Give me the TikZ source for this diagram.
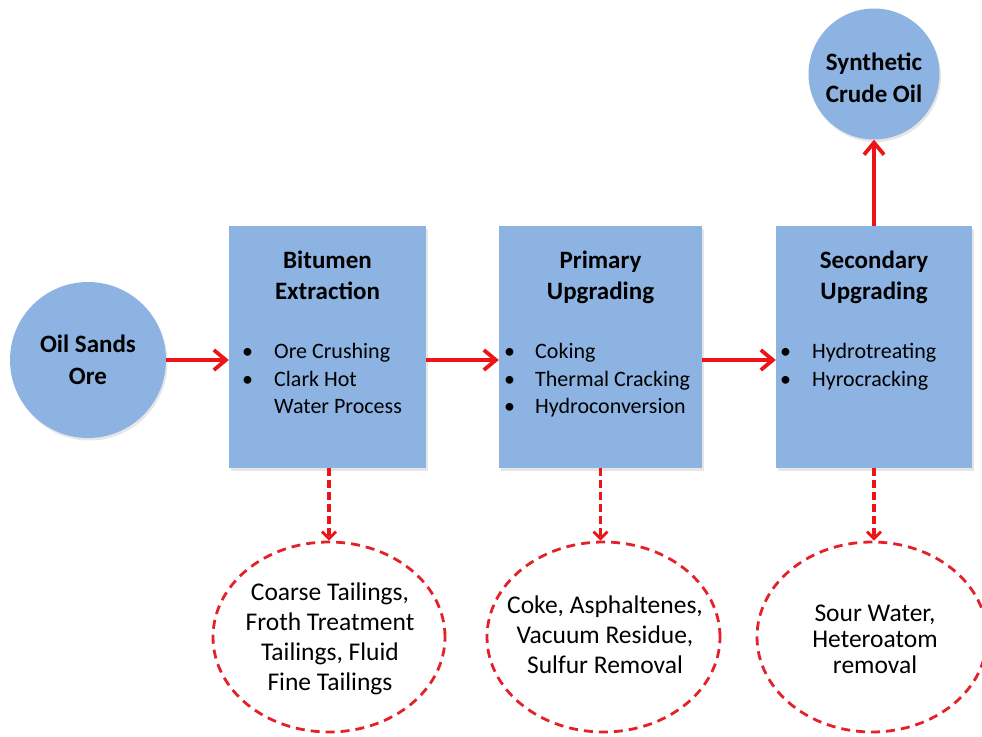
\documentclass[tikz,border=0pt]{standalone}
\usepackage{fontspec}
\setmainfont{Carlito}
\usetikzlibrary{arrows.meta,shapes.geometric,shadows}
\definecolor{boxblue}{RGB}{141,179,226}
\definecolor{arrred}{RGB}{236,20,22}
\definecolor{dashred}{RGB}{226,34,40}
\begin{document}
\begin{tikzpicture}[x=1pt,y=-1pt,
  softshadow/.style={drop shadow={opacity=0.2,shadow xshift=1.5pt,shadow yshift=-2.5pt}},
  procbox/.style={rectangle,fill=boxblue,draw=none,minimum height=242pt,inner sep=0pt,softshadow},
  endcircle/.style={circle,fill=boxblue,draw=none,inner sep=0pt,softshadow},
  wasteell/.style={ellipse,draw=dashred,line width=2.8pt,dash pattern=on 9pt off 6pt,minimum width=232pt,minimum height=190pt,inner sep=0pt},
  flow/.style={draw=arrred,line width=4pt,-{Straight Barb[length=12pt,width=20pt,line width=3.8pt]}},
  wasteflow/.style={draw=arrred,line width=3.2pt,dash pattern=on 8pt off 4pt,-{Straight Barb[length=7pt,width=14pt,line width=2.8pt]}},
  ttl/.style={font=\fontsize{25}{30}\selectfont\bfseries,anchor=base,inner sep=0pt},
  bul/.style={font=\fontsize{22}{27}\selectfont,anchor=base west,inner sep=0pt},
  wtxt/.style={font=\fontsize{25.5}{30}\selectfont,anchor=base,inner sep=0pt}]
\useasboundingbox (0,0) rectangle (982,736);

% main nodes
\node[endcircle,minimum size=156pt] (ore) at (88,360) {};
\node[procbox,minimum width=197pt] (b1) at (327.5,347) {};
\node[procbox,minimum width=203pt] (b2) at (600.5,347) {};
\node[procbox,minimum width=196pt] (b3) at (874,347) {};
\node[endcircle,minimum size=131pt] (syn) at (874,74) {};
\node[wasteell] (e1) at (329,637) {};
\node[wasteell,minimum width=233pt] (e2) at (603.5,637) {};
\node[wasteell,minimum width=230pt] (e3) at (872,637) {};

% circle texts
\node[ttl] (o1) at (88,352) {Oil Sands};
\node[ttl] (o2) at (88,384) {Ore};
\node[ttl] (s1) at (874,70) {Synthetic};
\node[ttl] (s2) at (874,102) {Crude Oil};

% box titles
\node[ttl] (t1a) at (327.5,268) {Bitumen};
\node[ttl] (t1b) at (327.5,299) {Extraction};
\node[ttl] (t2a) at (600.5,268) {Primary};
\node[ttl] (t2b) at (600.5,299) {Upgrading};
\node[ttl] (t3a) at (874,268) {Secondary};
\node[ttl] (t3b) at (874,299) {Upgrading};

% bullets box 1
\node[bul] (d11) at (242,358) {•};
\node[bul] (l11) at (274,358) {Ore Crushing};
\node[bul] (d12) at (242,386) {•};
\node[bul] (l12) at (274,386) {Clark Hot};
\node[bul] (l13) at (274,413) {Water Process};
% bullets box 2
\node[bul] (d21) at (504,358) {•};
\node[bul] (l21) at (535,358) {Coking};
\node[bul] (d22) at (504,386) {•};
\node[bul] (l22) at (535,386) {Thermal Cracking};
\node[bul] (d23) at (504,413) {•};
\node[bul] (l23) at (535,413) {Hydroconversion};
% bullets box 3
\node[bul] (d31) at (780,358) {•};
\node[bul] (l31) at (812,358) {Hydrotreating};
\node[bul] (d32) at (780,386) {•};
\node[bul] (l32) at (812,386) {Hyrocracking};

% ellipse texts
\node[wtxt] (w11) at (330,600) {Coarse Tailings,};
\node[wtxt] (w12) at (330,630) {Froth Treatment};
\node[wtxt] (w13) at (330,660) {Tailings, Fluid};
\node[wtxt] (w14) at (330,690) {Fine Tailings};
\node[wtxt] (w21) at (605,613) {Coke, Asphaltenes,};
\node[wtxt] (w22) at (605,643) {Vacuum Residue,};
\node[wtxt] (w23) at (605,673) {Sulfur Removal};
\node[wtxt] (w31) at (875,621) {Sour Water,};
\node[wtxt] (w32) at (875,647) {Heteroatom};
\node[wtxt] (w33) at (875,673) {removal};

% connectors
\draw[flow] (ore.east) -- (ore.east -| b1.west);
\draw[flow] (b1.east |- ore.east) -- (b2.west |- ore.east);
\draw[flow] (b2.east |- ore.east) -- (b3.west |- ore.east);
\draw[flow] (b3.north) -- (syn.south);
\draw[wasteflow] (e1.north |- b1.south) -- (e1.north);
\draw[wasteflow] (b2.south) -- (b2.south |- e2.north);
\draw[wasteflow] (b3.south) -- (b3.south |- e3.north);
\end{tikzpicture}
\end{document}
